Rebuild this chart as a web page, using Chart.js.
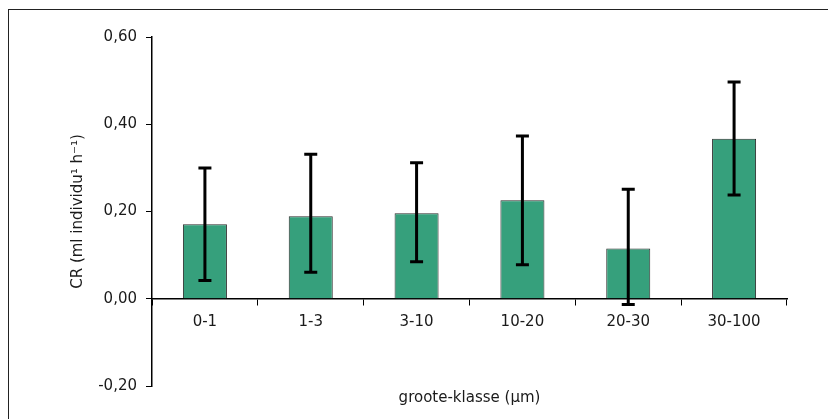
<!DOCTYPE html>
<html lang="nl">
<head>
  <meta charset="UTF-8" />
  <title>CR per grootteklasse</title>
  <script src="https://cdn.jsdelivr.net/npm/chart.js"></script>
  <style>
    html, body {
      margin: 0;
      padding: 0;
      background: #fff;
      overflow: hidden;
    }

    .frame {
      position: absolute;
      left: 8px;
      top: 9px;
      width: 900px;
      height: 500px;
      border: 1.5px solid #222;
    }

    .chart-box {
      position: absolute;
      left: 0;
      top: 0;
      width: 828px;
      height: 419px;
    }
  </style>
</head>
<body>

  <div class="frame"></div>
  <div class="chart-box">
    <canvas id="crChart"></canvas>
  </div>

  <script>
    // size classes (µm) and mean clearance rate with error limits
    const classes = ['0-1', '1-3', '3-10', '10-20', '20-30', '30-100'];
    const crMean = [0.171, 0.189, 0.196, 0.226, 0.115, 0.367];
    const crHigh = [0.300, 0.331, 0.312, 0.373, 0.251, 0.497];
    const crLow = [0.042, 0.061, 0.085, 0.078, -0.013, 0.238];
    const yTickLabels = ['-0,20', '0,00', '0,20', '0,40', '0,60'];

    const font = { family: "'DejaVu Sans', sans-serif", size: 15 };
    const ink = '#1a1a1a';

    // whiskers drawn on top of the bars
    const errorBars = {
      id: 'errorBars',
      afterDatasetsDraw(chart) {
        const ctx = chart.ctx;
        const y = chart.scales.y;
        const meta = chart.getDatasetMeta(0);
        ctx.save();
        ctx.strokeStyle = '#000';
        ctx.lineWidth = 3;
        meta.data.forEach((bar, i) => {
          const top = y.getPixelForValue(crHigh[i]);
          const bot = y.getPixelForValue(crLow[i]);
          ctx.beginPath();
          ctx.moveTo(bar.x, top);
          ctx.lineTo(bar.x, bot);
          ctx.moveTo(bar.x - 6.5, top);
          ctx.lineTo(bar.x + 6.5, top);
          ctx.moveTo(bar.x - 6.5, bot);
          ctx.lineTo(bar.x + 6.5, bot);
          ctx.stroke();
        });
        ctx.restore();
      }
    };

    new Chart(document.getElementById('crChart'), {
      type: 'bar',
      data: {
        labels: classes,
        datasets: [{
          data: crMean,
          backgroundColor: '#36a07c',
          borderColor: '#2b2b2b',
          borderWidth: 1,
          barPercentage: 0.416,
          categoryPercentage: 1
        }]
      },
      options: {
        responsive: true,
        maintainAspectRatio: false,
        animation: false,
        layout: { padding: { left: 60, right: 41, top: 37, bottom: 0 } },
        plugins: {
          legend: { display: false },
          tooltip: { enabled: false }
        },
        scales: {
          x: {
            type: 'category',
            position: { y: 0 },
            offset: true,
            grid: {
              offset: true,
              drawOnChartArea: false,
              tickLength: 6,
              color: '#000'
            },
            border: { color: '#000', width: 1.5 },
            ticks: { font: font, color: ink, padding: 8 }
          },
          xTitle: {
            type: 'category',
            position: 'bottom',
            grid: { display: false, drawTicks: false },
            border: { display: false },
            ticks: { display: false },
            title: {
              display: true,
              text: 'groote-klasse (µm)',
              font: font,
              color: ink,
              padding: { top: 0, bottom: 12 }
            },
            afterFit(scale) { scale.height = 33; }
          },
          y: {
            min: -0.2,
            max: 0.6,
            ticks: {
              stepSize: 0.2,
              font: font,
              color: ink,
              padding: 9,
              callback: (v, i) => yTickLabels[i]
            },
            grid: {
              drawOnChartArea: false,
              tickLength: 6,
              color: '#000'
            },
            border: { color: '#000', width: 1.5 },
            title: {
              display: true,
              text: 'CR (ml individu¹ h⁻¹)',
              font: font,
              color: ink,
              padding: { top: 9, bottom: 0 }
            },
            afterFit(scale) { scale.width = 92; }
          }
        }
      },
      plugins: [errorBars]
    });
  </script>

</body>
</html>
